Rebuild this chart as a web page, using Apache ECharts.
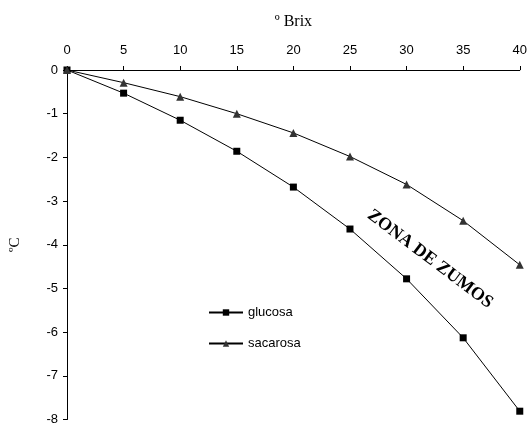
<!DOCTYPE html>
<html>
<head>
<meta charset="utf-8">
<script src="https://cdn.jsdelivr.net/npm/echarts@6/dist/echarts.min.js"></script>
<style>html,body{margin:0;padding:0;background:#fff}#c{width:530px;height:426px}</style>
</head>
<body>
<div id="c"></div>
<script>
var brix = [0, 5, 10, 15, 20, 25, 30, 35, 40];
var glucosa = [0, -0.53, -1.15, -1.86, -2.68, -3.64, -4.78, -6.13, -7.81];
var sacarosa = [0, -0.29, -0.61, -1.0, -1.44, -1.98, -2.62, -3.45, -4.46];
var seriesNames = ['glucosa', 'sacarosa'];
var xTitle = 'º Brix';
var yTitle = 'ºC';
var note = 'ZONA DE ZUMOS';

function pairs(xs, ys) { return xs.map(function (x, i) { return [x, ys[i]]; }); }

var chart = echarts.init(document.getElementById('c'), null, {renderer: 'canvas'});
chart.setOption({
  animation: false,
  backgroundColor: '#fff',
  grid: {left: 63, right: 9, top: 70, bottom: 5, containLabel: false},
  xAxis: {
    type: 'value', position: 'top', min: 0, max: 40, interval: 5,
    name: xTitle, nameLocation: 'middle', nameGap: 40,
    nameTextStyle: {fontFamily: 'Liberation Serif', fontSize: 16, color: '#000'},
    axisLine: {show: true, onZero: false, lineStyle: {color: '#000', width: 1}},
    axisTick: {show: true, length: 4, lineStyle: {color: '#000'}},
    axisLabel: {fontFamily: 'Liberation Sans', fontSize: 13, color: '#000', margin: 13},
    splitLine: {show: false}
  },
  yAxis: {
    type: 'value', min: -8, max: 0, interval: 1,
    name: yTitle, nameLocation: 'middle', nameGap: 44, nameRotate: 90,
    nameTextStyle: {fontFamily: 'Liberation Serif', fontSize: 15, color: '#000'},
    axisLine: {show: true, onZero: false, lineStyle: {color: '#000', width: 1}},
    axisTick: {show: true, length: 4, lineStyle: {color: '#000'}},
    axisLabel: {fontFamily: 'Liberation Sans', fontSize: 13, color: '#000', margin: 9},
    splitLine: {show: false}
  },
  legend: {
    orient: 'vertical', left: 203, top: 301, itemGap: 18,
    itemWidth: 34, itemHeight: 8,
    textStyle: {fontFamily: 'Liberation Sans', fontSize: 13, color: '#000'},
    data: seriesNames
  },
  series: [
    {
      name: seriesNames[0], type: 'line', data: pairs(brix, glucosa),
      symbol: 'rect', symbolSize: 7,
      lineStyle: {color: '#000', width: 1},
      itemStyle: {color: '#000'}
    },
    {
      name: seriesNames[1], type: 'line', data: pairs(brix, sacarosa),
      symbol: 'triangle', symbolSize: 8,
      lineStyle: {color: '#000', width: 1},
      itemStyle: {color: '#333'}
    }
  ],
  graphic: [{
    type: 'text', x: 430, y: 259, rotation: -37 * Math.PI / 180,
    style: {
      text: note, fontFamily: 'Liberation Serif', fontWeight: 'bold', fontSize: 18,
      fill: '#000', textAlign: 'center', textVerticalAlign: 'middle'
    }
  }]
});
</script>
</body>
</html>
